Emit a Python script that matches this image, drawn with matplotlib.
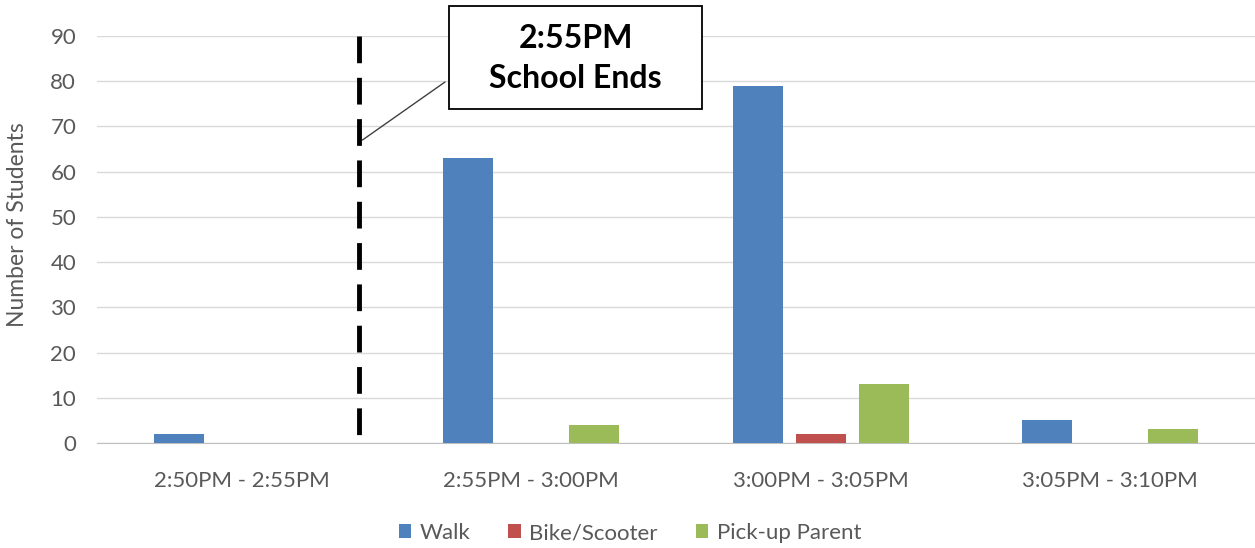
import matplotlib
matplotlib.use("Agg")
import matplotlib.pyplot as plt
from matplotlib.patches import Rectangle
import numpy as np

plt.rcParams['font.family'] = ['Lato', 'DejaVu Sans']

categories = ["2:50PM - 2:55PM", "2:55PM - 3:00PM", "3:00PM - 3:05PM", "3:05PM - 3:10PM"]
walk = [2, 63, 79, 5]
bike = [0, 0, 2, 0]
parent = [0, 4, 13, 3]
series_names = ["Walk", "Bike/Scooter", "Pick-up Parent"]
colors = ["#4F81BD", "#C0504D", "#9BBB59"]
school_end_pos = 0.405  # between first and second time slot
y_ticks = list(range(0, 100, 10))

W, H = 1255, 548
fig = plt.figure(figsize=(W / 100, H / 100), dpi=100)
ax = fig.add_axes([97 / W, 1 - 443 / H, 1 - 97 / W, (443 - 36) / H])

x = np.arange(len(categories))
bar_w = 0.173
step = 0.218
for i, (vals, name, c) in enumerate(zip([walk, bike, parent], series_names, colors)):
    # skip zero values so they don't show up as slivers
    v = np.array(vals, dtype=float)
    ax.bar(x + (i - 1) * step, np.where(v > 0, v, np.nan), width=bar_w, color=c, label=name, zorder=3)

ax.set_xlim(-0.5, 3.5)
ax.set_ylim(0, 90)
ax.set_yticks(y_ticks)
ax.set_xticks(x)
ax.set_xticklabels(categories)
ax.tick_params(axis='both', length=0, colors="#595959", labelsize=16)
ax.tick_params(axis='x', pad=20)
ax.tick_params(axis='y', pad=15)
ax.grid(axis='y', color="#D9D9D9", lw=1, zorder=0)
for s in ["top", "right", "left"]:
    ax.spines[s].set_visible(False)
ax.spines["bottom"].set_color("#BFBFBF")
ax.spines["bottom"].set_zorder(2)
ax.set_ylabel("Number of Students", color="#595959", fontsize=16.5)
ax.yaxis.set_label_coords((28 - 97) / (W - 97), (443 - 225) / (443 - 36))

# school end marker (drawn top-down so the dash pattern starts at the top)
ax.plot([school_end_pos, school_end_pos], [90, 0], color="black", lw=3.5,
        dashes=(5.5, 3), zorder=4)

# callout box
bx0, by0, bx1, by1 = 449, 6, 702, 109
fig.patches.append(Rectangle((bx0 / W, 1 - by1 / H), (bx1 - bx0) / W, (by1 - by0) / H,
                             transform=fig.transFigure, fill=True, facecolor="white",
                             edgecolor="black", lw=1.3, zorder=5))
fig.text((bx0 + bx1) / 2 / W, 1 - (by0 + by1 + 2) / 2 / H, "2:55PM\nSchool Ends",
         ha="center", va="center", fontsize=23, fontweight="bold",
         linespacing=1.45, zorder=6)
ax.annotate("", xy=(school_end_pos + 0.012, 67), xycoords="data",
            xytext=(445 / W, 1 - 82 / H), textcoords="figure fraction",
            arrowprops=dict(arrowstyle="-", color="#404040", lw=1, shrinkA=0, shrinkB=0))

fig.legend(loc="center", bbox_to_anchor=(630 / W, 1 - 533 / H), ncol=3, frameon=False,
           fontsize=16, labelcolor="#595959", handlelength=0.55, handleheight=0.6,
           handletextpad=0.4, columnspacing=1.7)

fig.savefig("out.png", dpi=100)
